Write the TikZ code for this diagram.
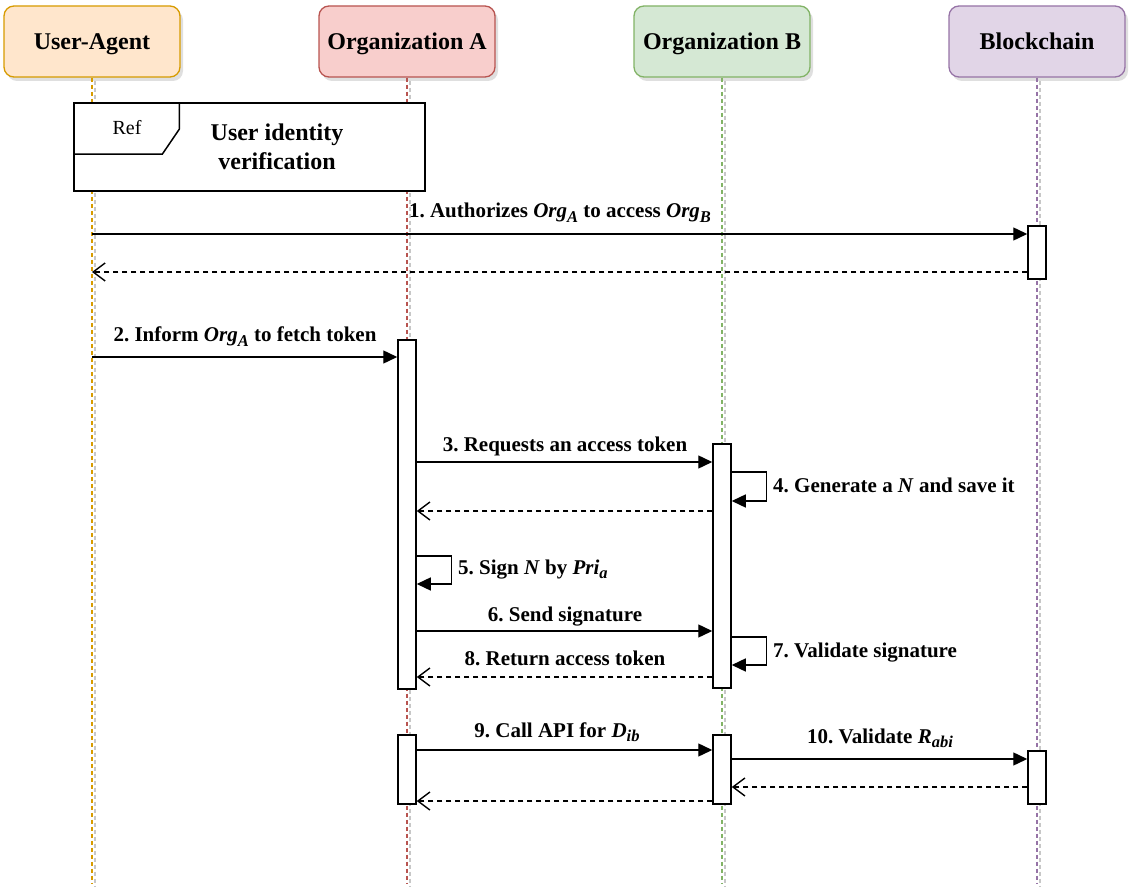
\documentclass[tikz,border=0pt]{standalone}
\usepackage{fontspec}
\setmainfont{Liberation Serif}
\usetikzlibrary{arrows.meta,shadows}
\definecolor{uaS}{HTML}{D79B00}\definecolor{uaF}{HTML}{FFE6CC}
\definecolor{oaS}{HTML}{B85450}\definecolor{oaF}{HTML}{F8CECC}
\definecolor{obS}{HTML}{82B366}\definecolor{obF}{HTML}{D5E8D4}
\definecolor{bcS}{HTML}{9673A6}\definecolor{bcF}{HTML}{E1D5E7}
\newcommand{\lowsub}[1]{\raisebox{-0.5ex}{\fontsize{16.5}{16.5}\selectfont\textit{#1}}}
\frenchspacing
\begin{document}
\begin{tikzpicture}[x=1pt,y=-1pt,
  head/.style={draw, rounded corners=10pt, minimum width=176pt, minimum height=71pt,
    line width=1.3pt, font=\fontsize{24}{28}\selectfont\bfseries, text height=18pt, text depth=2pt,
    drop shadow={shadow xshift=3pt, shadow yshift=-4pt, fill=black!25}},
  life/.style={line width=1.2pt, dash pattern=on 4pt off 3pt},
  lifeshadow/.style={line width=1.2pt, dash pattern=on 4pt off 3pt, black!22},
  act/.style={draw, fill=white, line width=1.5pt, minimum width=18pt, inner sep=0pt},
  msg/.style={line width=1.4pt, -{Triangle[length=14pt,width=13pt]}},
  ret/.style={line width=1.4pt, dash pattern=on 5pt off 4pt, -{Straight Barb[length=12pt,width=18pt,line width=1.4pt]}},
  lbl/.style={font=\fontsize{21}{25}\selectfont\bfseries, inner sep=0pt}
]
\useasboundingbox (0,0) rectangle (1130,890);
% headers
\node[head, fill=uaF, draw=uaS] (ua) at (92,41.5) {User-Agent};
\node[head, fill=oaF, draw=oaS] (oa) at (407,41.5) {Organization A};
\node[head, fill=obF, draw=obS] (ob) at (722,41.5) {Organization B};
\node[head, fill=bcF, draw=bcS] (bc) at (1037,41.5) {Blockchain};
% lifeline ends
\coordinate (uaE) at (92,884);
\coordinate (oaE) at (407,884);
\coordinate (obE) at (722,884);
\coordinate (bcE) at (1037,884);
\foreach \n in {ua,oa,ob,bc}{
  \draw[lifeshadow] ([shift={(3,3)}]\n.south) -- ([shift={(3,3)}]\n E);
}
\draw[life, uaS] (ua.south) -- (uaE);
\draw[life, oaS] (oa.south) -- (oaE);
\draw[life, obS] (ob.south) -- (obE);
\draw[life, bcS] (bc.south) -- (bcE);
% ref frame
\node[draw, fill=white, line width=1.5pt, minimum width=351pt, minimum height=88pt, inner sep=0pt] (ref) at (249.5,147) {};
\draw[line width=1.5pt] ([xshift=106pt]ref.north west) -- ++(0,27) -- ++(-17,25) -- ++(-89,0);
\node[font=\fontsize{20}{24}\selectfont, anchor=base] (reft) at (127,135) {Ref};
\node[font=\fontsize{24}{29}\selectfont\bfseries, align=center] (refl) at (277,147) {User identity\\verification};
% activation boxes
\node[act, minimum height=349pt] (a1) at (407,514.5) {};
\node[act, minimum height=69pt] (a2) at (407,769.5) {};
\node[act, minimum height=244pt] (b1) at (722,566) {};
\node[act, minimum height=69pt] (b2) at (722,769.5) {};
\node[act, minimum height=53pt] (c1) at (1037,252.5) {};
\node[act, minimum height=53pt] (c2) at (1037,777.5) {};
% y levels
\coordinate (y1) at (92,234);
\coordinate (r1) at (92,272);
\coordinate (y2) at (92,357);
\coordinate (y3) at (0,462);
\coordinate (y4a) at (0,472);
\coordinate (y4b) at (0,501);
\coordinate (r3) at (0,511);
\coordinate (y5a) at (0,556);
\coordinate (y5b) at (0,584);
\coordinate (y6) at (0,631);
\coordinate (y7a) at (0,637);
\coordinate (y7b) at (0,665);
\coordinate (r8) at (0,677);
\coordinate (y9) at (0,750);
\coordinate (y10) at (0,759);
\coordinate (r10) at (0,787);
\coordinate (r9) at (0,801);
% messages
\draw[msg] (y1) -- (c1.west |- y1);
\node[lbl, anchor=base] (l1) at (560,218) {1. Authorizes \textit{Org}\lowsub{A} to access \textit{Org}\lowsub{B}};
\draw[ret] (c1.west |- r1) -- (r1);
\draw[msg] (y2) -- (a1.west |- y2);
\node[lbl, anchor=base] (l2) at (245,342) {2. Inform \textit{Org}\lowsub{A} to fetch token};
\draw[msg] (a1.east |- y3) -- (b1.west |- y3);
\node[lbl, anchor=base] (l3) at (565,451) {3. Requests an access token};
\draw[msg] (b1.east |- y4a) -- ++(35,0) -- ++(0,29) -- (b1.east |- y4b);
\node[lbl, anchor=base west] (l4) at (773,492) {4. Generate a \textit{N} and save it};
\draw[ret] (b1.west |- r3) -- (a1.east |- r3);
\draw[msg] (a1.east |- y5a) -- ++(35,0) -- ++(0,28) -- (a1.east |- y5b);
\node[lbl, anchor=base west] (l5) at (458,574) {5. Sign \textit{N} by \textit{Pri}\lowsub{a}};
\draw[msg] (a1.east |- y6) -- (b1.west |- y6);
\node[lbl, anchor=base] (l6) at (565,621) {6. Send signature};
\draw[msg] (b1.east |- y7a) -- ++(35,0) -- ++(0,28) -- (b1.east |- y7b);
\node[lbl, anchor=base west] (l7) at (773,657) {7. Validate signature};
\draw[ret] (b1.west |- r8) -- (a1.east |- r8);
\node[lbl, anchor=base] (l8) at (565,665) {8. Return access token};
\draw[msg] (a2.east |- y9) -- (b2.west |- y9);
\node[lbl, anchor=base] (l9) at (557,737) {9. Call API for \textit{D}\lowsub{ib}};
\draw[msg] (b2.east |- y10) -- (c2.west |- y10);
\node[lbl, anchor=base] (l10) at (880,743) {10. Validate \textit{R}\lowsub{abi}};
\draw[ret] (c2.west |- r10) -- (b2.east |- r10);
\draw[ret] (b2.west |- r9) -- (a2.east |- r9);
\end{tikzpicture}
\end{document}
